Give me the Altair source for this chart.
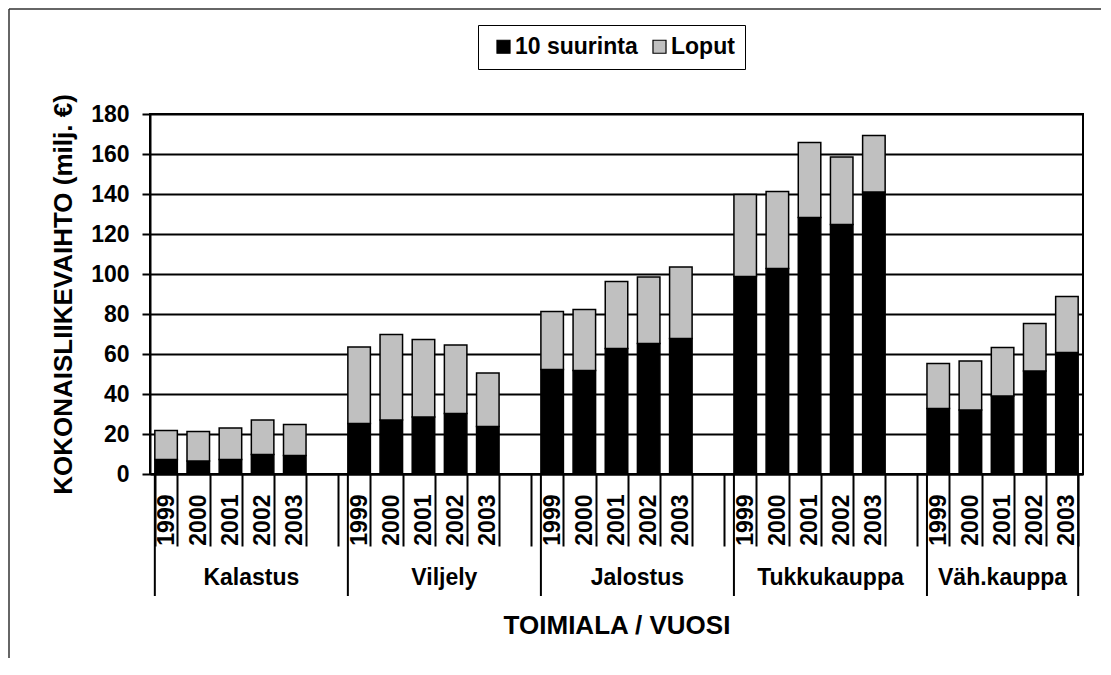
import altair as alt
import pandas as pd

groups = ["Kalastus", "Viljely", "Jalostus", "Tukkukauppa", "Väh.kauppa"]
years = ["1999", "2000", "2001", "2002", "2003"]
series = ["10 suurinta", "Loput"]
colors = ["#000000", "#C0C0C0"]

# 10 suurinta (bottom segment), per group, per year
top10 = [
    [7.3, 6.5, 7.3, 9.8, 9.3],
    [25.3, 27.0, 28.5, 30.3, 23.7],
    [52.3, 51.8, 62.7, 65.3, 67.7],
    [98.7, 102.8, 128.2, 124.8, 141.0],
    [32.7, 32.0, 39.0, 51.5, 60.7],
]
# Loput (top segment)
rest = [
    [14.5, 14.7, 15.7, 17.2, 15.4],
    [38.2, 42.8, 38.8, 34.2, 26.8],
    [28.9, 30.5, 33.5, 33.2, 35.8],
    [41.1, 38.4, 37.5, 33.7, 28.3],
    [22.6, 24.5, 24.2, 23.7, 28.1],
]
y_ticks = [0, 20, 40, 60, 80, 100, 120, 140, 160, 180]

FONT = "Liberation Sans"
W, H = 933, 360

slots = []
for gi, g in enumerate(groups):
    for yv in years:
        slots.append(f"{g}|{yv}")
    if gi < len(groups) - 1:
        slots.append(f"gap{gi + 1}")

rows = []
for gi, g in enumerate(groups):
    for yi, yv in enumerate(years):
        rows.append({"slot": f"{g}|{yv}", "series": series[0], "ord": 0, "amount": top10[gi][yi]})
        rows.append({"slot": f"{g}|{yv}", "series": series[1], "ord": 1, "amount": rest[gi][yi]})
df = pd.DataFrame(rows)

x_scale = alt.Scale(domain=slots, paddingInner=0.3, paddingOuter=0.15)
x_axis = alt.Axis(
    title="TOIMIALA / VUOSI",
    labelExpr="isString(datum.value) && indexof(datum.value, '|') >= 0 ? split(datum.value, '|')[1] : ''",
    labelAngle=270, labelAlign="right", labelBaseline="middle",
    labelPadding=-52, tickSize=72, tickBand="extent", labelOverlap=False,
    grid=False, titlePadding=65,
)

bars = alt.Chart(df).mark_bar(stroke="black", strokeWidth=1.5).encode(
    x=alt.X("slot:N", scale=x_scale, axis=x_axis),
    y=alt.Y("amount:Q", stack="zero",
            scale=alt.Scale(domain=[0, 180], nice=False),
            axis=alt.Axis(values=y_ticks, title="KOKONAISLIIKEVAIHTO (milj. €)",
                          tickSize=8, labelPadding=13, titlePadding=14, grid=True)),
    color=alt.Color("series:N", scale=alt.Scale(domain=series, range=colors),
                    legend=alt.Legend(title=None, orient="none", direction="horizontal",
                                      legendX=328, legendY=-89, padding=10,
                                      strokeColor="black", symbolType="square",
                                      symbolSize=170, symbolStrokeColor="black",
                                      symbolStrokeWidth=1.2, symbolOffset=4,
                                      labelFont=FONT, labelFontSize=23,
                                      labelFontWeight="bold", labelColor="black",
                                      labelOffset=0, columnPadding=6)),
    order=alt.Order("ord:Q"),
)

# long separators at group boundaries
sep_df = pd.DataFrame({"slot": [f"{g}|{years[0]}" for g in groups]})
seps = alt.Chart(sep_df).mark_rule(color="black", strokeWidth=2).encode(
    x=alt.X("slot:N", scale=x_scale, axis=x_axis, bandPosition=0),
    y=alt.value(H), y2=alt.value(H + 122),
)
end_df = pd.DataFrame({"slot": [f"{groups[-1]}|{years[-1]}"]})
end_sep = alt.Chart(end_df).mark_rule(color="black", strokeWidth=2).encode(
    x=alt.X("slot:N", scale=x_scale, axis=x_axis, bandPosition=1),
    y=alt.value(H), y2=alt.value(H + 122),
)

# group labels
lab_df = pd.DataFrame({"slot": [f"{g}|2002" for g in groups[:-1]], "name": groups[:-1]})
labs = alt.Chart(lab_df).mark_text(font=FONT, fontSize=23, fontWeight="bold",
                                    color="black", baseline="middle", align="center").encode(
    x=alt.X("slot:N", scale=x_scale, axis=x_axis, bandPosition=0),
    y=alt.value(H + 104), text="name:N",
)
last_df = pd.DataFrame({"slot": [f"{groups[-1]}|2001"], "name": [groups[-1]]})
last_lab = alt.Chart(last_df).mark_text(font=FONT, fontSize=23, fontWeight="bold",
                                         color="black", baseline="middle", align="center").encode(
    x=alt.X("slot:N", scale=x_scale, axis=x_axis, bandPosition=0.5),
    y=alt.value(H + 104), text="name:N",
)

# outer frame (top and left edges)
one = pd.DataFrame({"a": [0]})
frame_top = alt.Chart(one).mark_rule(color="#333333", strokeWidth=1.5).encode(
    x=alt.value(-141), x2=alt.value(W + 18), y=alt.value(-105))
frame_left = alt.Chart(one).mark_rule(color="#333333", strokeWidth=1.5).encode(
    x=alt.value(-141), y=alt.value(-105), y2=alt.value(H + 184))

chart = alt.layer(frame_top, frame_left, bars, seps, end_sep, labs, last_lab).properties(
    width=W, height=H, padding=0, background="white"
).configure_view(stroke="black", strokeWidth=2).configure_axis(
    domainColor="black", domainWidth=2, tickColor="black", tickWidth=2,
    gridColor="black", gridWidth=2, gridOpacity=1,
    labelFont=FONT, labelFontSize=23, labelFontWeight="bold", labelColor="black",
    titleFont=FONT, titleFontSize=26, titleFontWeight="bold", titleColor="black",
)

chart.save("out.html", embed_options={"renderer": "svg", "actions": False})
